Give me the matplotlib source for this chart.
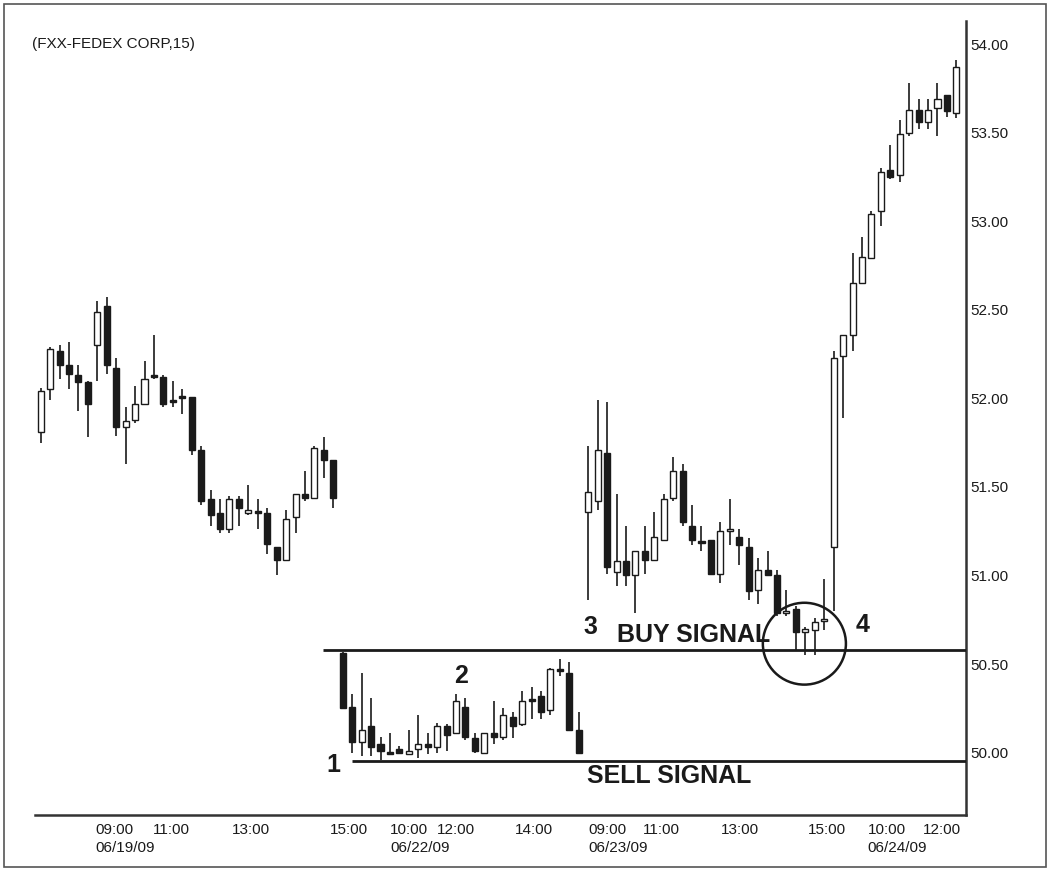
import matplotlib

matplotlib.use("Agg")
import matplotlib.pyplot as plt
from matplotlib.patches import Ellipse, Rectangle

plt.rcParams["font.family"] = ["Liberation Sans", "DejaVu Sans"]

OUTPUT_PATH = "out.png"

# 15-minute bars, 06/19 (32 bars), 06/22 (26), 06/23 (26), 06/24 (14)
opens = [
    51.81, 52.05, 52.27, 52.19, 52.13, 52.09, 52.30, 52.52, 52.17, 51.84, 51.88, 51.97, 52.13, 52.12, 51.99, 52.01,
    52.01, 51.71, 51.43, 51.35, 51.26, 51.43, 51.35, 51.355, 51.35, 51.16, 51.09, 51.33, 51.46, 51.44, 51.71, 51.65,
    50.56, 50.26, 50.06, 50.15, 50.05, 50.00, 50.02, 49.995, 50.02, 50.05, 50.03, 50.15, 50.11, 50.26, 50.08, 50.00,
    50.11, 50.09, 50.20, 50.16, 50.30, 50.32, 50.24, 50.465, 50.45, 50.13,
    51.36, 51.42, 51.69, 51.02, 51.08, 51.00, 51.14, 51.09, 51.20, 51.44, 51.59, 51.28, 51.195, 51.20, 51.01, 51.25,
    51.22, 51.16, 50.92, 51.03, 51.00, 50.79, 50.81, 50.68, 50.69, 50.745,
    51.16, 52.24, 52.36, 52.65, 52.79, 53.06, 53.29, 53.26, 53.50, 53.63, 53.56, 53.64, 53.71, 53.61,
]
highs = [
    52.06, 52.29, 52.30, 52.32, 52.19, 52.10, 52.55, 52.57, 52.23, 51.95, 52.07, 52.21, 52.36, 52.13, 52.10, 52.05,
    52.01, 51.73, 51.48, 51.43, 51.45, 51.45, 51.51, 51.43, 51.38, 51.16, 51.37, 51.46, 51.59, 51.73, 51.78, 51.65,
    50.57, 50.33, 50.45, 50.31, 50.09, 50.11, 50.04, 50.13, 50.21, 50.11, 50.17, 50.16, 50.33, 50.31, 50.11, 50.11,
    50.29, 50.25, 50.23, 50.35, 50.37, 50.35, 50.48, 50.53, 50.51, 50.23,
    51.73, 51.99, 51.98, 51.46, 51.28, 51.14, 51.28, 51.36, 51.46, 51.67, 51.63, 51.40, 51.28, 51.20, 51.30, 51.43,
    51.26, 51.21, 51.10, 51.14, 51.03, 50.92, 50.83, 50.71, 50.76, 50.98,
    52.27, 52.36, 52.82, 52.91, 53.06, 53.30, 53.43, 53.57, 53.78, 53.69, 53.69, 53.78, 53.71, 53.91,
]
lows = [
    51.75, 51.99, 52.11, 52.05, 51.93, 51.78, 52.10, 52.14, 51.79, 51.63, 51.86, 51.97, 52.11, 51.95, 51.95, 51.91,
    51.68, 51.40, 51.28, 51.24, 51.24, 51.28, 51.34, 51.26, 51.12, 51.00, 51.08, 51.24, 51.42, 51.44, 51.55, 51.38,
    50.25, 50.00, 49.98, 49.98, 49.96, 49.99, 49.99, 49.99, 49.97, 49.99, 50.00, 50.01, 50.11, 50.07, 50.00, 49.99,
    50.05, 50.07, 50.08, 50.15, 50.19, 50.19, 50.21, 50.43, 50.12, 50.00,
    50.86, 51.37, 51.01, 50.94, 50.94, 50.79, 51.01, 51.09, 51.20, 51.42, 51.28, 51.17, 51.14, 51.01, 50.96, 51.17,
    51.06, 50.86, 50.84, 51.00, 50.77, 50.77, 50.58, 50.55, 50.55, 50.69,
    50.80, 51.89, 52.27, 52.65, 52.79, 52.97, 53.24, 53.22, 53.48, 53.52, 53.52, 53.48, 53.59, 53.58,
]
closes = [
    52.04, 52.28, 52.19, 52.14, 52.09, 51.97, 52.49, 52.19, 51.84, 51.87, 51.97, 52.11, 52.12, 51.97, 51.98, 52.00,
    51.71, 51.42, 51.34, 51.26, 51.43, 51.38, 51.37, 51.35, 51.18, 51.09, 51.32, 51.46, 51.44, 51.72, 51.65, 51.44,
    50.25, 50.06, 50.13, 50.03, 50.01, 49.99, 50.00, 50.00, 50.05, 50.03, 50.15, 50.10, 50.29, 50.09, 50.01, 50.11,
    50.09, 50.21, 50.15, 50.29, 50.29, 50.23, 50.47, 50.46, 50.13, 50.00,
    51.47, 51.71, 51.05, 51.08, 51.00, 51.14, 51.09, 51.22, 51.43, 51.59, 51.30, 51.20, 51.185, 51.01, 51.25, 51.255,
    51.17, 50.91, 51.03, 51.00, 50.79, 50.80, 50.68, 50.70, 50.74, 50.75,
    52.23, 52.36, 52.65, 52.80, 53.04, 53.28, 53.25, 53.49, 53.63, 53.56, 53.63, 53.69, 53.62, 53.87,
]

# x-axis labels (positions in bar units)
xtick_pos = [5.75, 11.9, 20.3, 30.6, 37.0, 42.0, 50.25, 58.0, 63.8, 72.1, 81.3, 87.6, 93.4]
xtick_labels = ["09:00", "11:00", "13:00", "15:00", "10:00", "12:00", "14:00",
                "09:00", "11:00", "13:00", "15:00", "10:00", "12:00"]
date_pos = [5.75, 37.0, 58.0, 87.6]
date_labels = ["06/19/09", "06/22/09", "06/23/09", "06/24/09"]
ytick_values = [50.0, 50.5, 51.0, 51.5, 52.0, 52.5, 53.0, 53.5, 54.0]

BUY_LEVEL = 50.58
SELL_LEVEL = 49.95

INK = "#1a1a1a"


def main() -> None:
    fig = plt.figure(figsize=(10.5, 8.71), dpi=100)
    ax = fig.add_axes([35 / 1050, 56 / 871, 931 / 1050, 794 / 871])

    n = len(opens)
    xs = list(range(n))
    xmin, xmax = -0.6, 98.02

    # wicks
    ax.vlines(xs, lows, highs, color=INK, linewidth=1.2, zorder=2)

    # bodies
    bottoms = [min(o, c) for o, c in zip(opens, closes)]
    heights = [max(abs(c - o), 0.012) for o, c in zip(opens, closes)]
    faces = ["white" if c >= o else INK for o, c in zip(opens, closes)]
    ax.bar(xs, heights, bottom=bottoms, width=0.64, color=faces,
           edgecolor=INK, linewidth=1.0, zorder=3)

    # signal lines
    ax.hlines(BUY_LEVEL, 29.9, xmax, color=INK, linewidth=2.0, zorder=4)
    ax.hlines(SELL_LEVEL, 32.98, xmax, color=INK, linewidth=2.0, zorder=4)

    ax.add_patch(Ellipse((80.9, 50.615), 8.8, 0.462, fill=False,
                         edgecolor=INK, linewidth=1.8, zorder=5))

    bold = dict(fontsize=18, fontweight="bold", color=INK, va="center")
    ax.text(30.96, 49.93, "1", ha="center", **bold)
    ax.text(44.5, 50.432, "2", ha="center", **bold)
    ax.text(58.2, 50.708, "3", ha="center", **bold)
    ax.text(87.1, 50.719, "4", ha="center", **bold)
    ax.text(61.05, 50.663, "BUY SIGNAL", ha="left", **bold)
    ax.text(57.9, 49.868, "SELL SIGNAL", ha="left", **bold)

    ax.set_xlim(xmin, xmax)
    ax.set_ylim(49.648, 54.130)

    ax.yaxis.tick_right()
    ax.set_yticks(ytick_values, [f"{v:.2f}" for v in ytick_values])
    ax.set_xticks(xtick_pos, xtick_labels)
    for label in ax.get_xticklabels():
        label.set_horizontalalignment("left")
    ax.tick_params(axis="both", length=0, labelsize=11, colors=INK)
    ax.tick_params(axis="x", pad=6)
    ax.tick_params(axis="y", pad=3)

    # date row under the first time of each session
    for pos, text in zip(date_pos, date_labels):
        ax.annotate(text, xy=(pos, 0), xycoords=ax.get_xaxis_transform(),
                    xytext=(0, -24), textcoords="offset points",
                    ha="left", va="center", fontsize=11, color=INK)

    for side in ("left", "top"):
        ax.spines[side].set_visible(False)
    for side in ("right", "bottom"):
        ax.spines[side].set_linewidth(1.8)
        ax.spines[side].set_color("#333333")

    fig.text(32 / 1050, 1 - 44 / 871, "(FXX-FEDEX CORP,15)", fontsize=11,
             color=INK, va="center", ha="left")

    fig.add_artist(Rectangle((0.004, 0.005), 0.992, 0.99, transform=fig.transFigure,
                             fill=False, edgecolor="#555555", linewidth=1.2))

    fig.savefig(OUTPUT_PATH, dpi=100)


if __name__ == "__main__":
    main()
